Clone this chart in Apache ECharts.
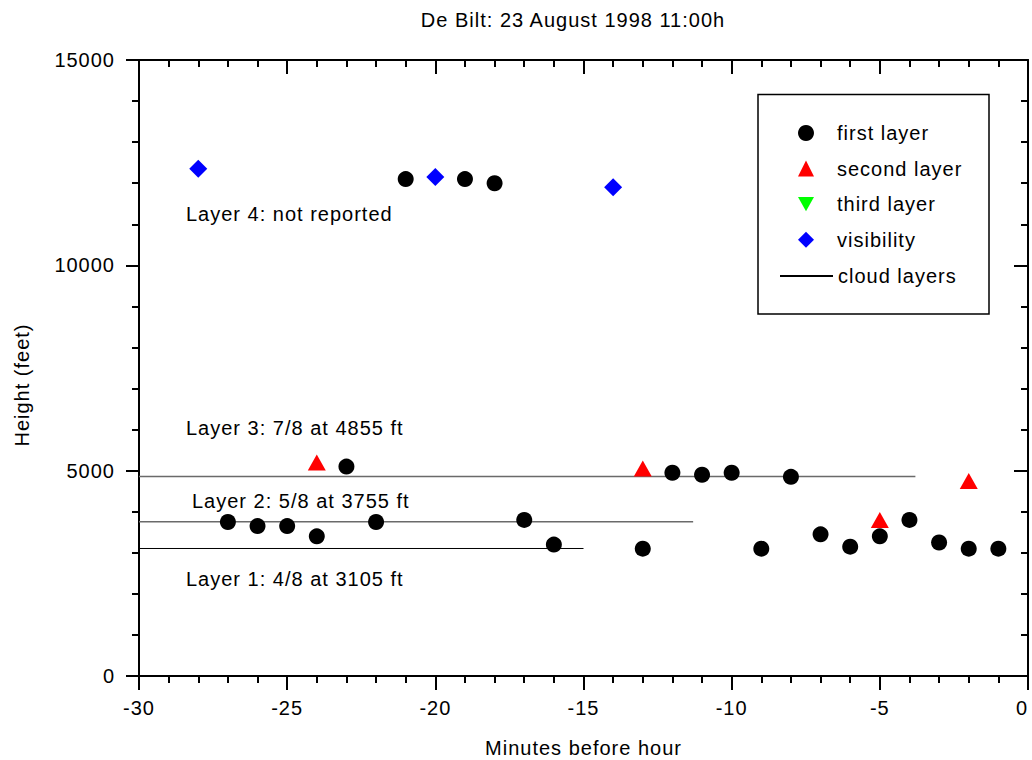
<!DOCTYPE html>
<html>
<head>
<meta charset="utf-8">
<script src="https://cdn.jsdelivr.net/npm/echarts@6/dist/echarts.min.js"></script>
<style>html,body{margin:0;padding:0;background:#fff}#c{width:1032px;height:760px}
#c svg text{letter-spacing:1px}</style>
</head>
<body>
<div id="c"></div>
<script>
// ---- data (minutes before hour, height in feet) ----
var firstLayer = [
  [-27,3750],[-26,3650],[-25,3650],[-24,3400],[-23,5100],[-22,3750],
  [-21,12100],[-19,12100],[-18,12000],[-17,3800],[-16,3200],[-13,3100],
  [-12,4950],[-11,4900],[-10,4950],[-9,3100],[-8,4850],[-7,3450],
  [-6,3150],[-5,3400],[-4,3800],[-3,3250],[-2,3100],[-1,3100]
];
var secondLayer = [[-24,5200],[-13,5050],[-5,3800],[-2,4750]];
var thirdLayer = [];
var visibility = [[-28,12350],[-20,12150],[-14,11900]];
var cloudLayer1 = [[-30,3105],[-15,3105]];
var cloudLayer2 = [[-30,3755],[-11.3,3755]];
var cloudLayer3 = [[-30,4855],[-3.8,4855]];
var annotations = [
  'Layer 4: not reported',
  'Layer 3: 7/8 at 4855 ft',
  'Layer 2: 5/8 at 3755 ft',
  'Layer 1: 4/8 at 3105 ft'
];
var markerNames = ['first layer','second layer','third layer','visibility'];
var lineName = 'cloud layers';

var FONT = 'Arial, "Liberation Sans", sans-serif';
var FS = 20;
var chart = echarts.init(document.getElementById('c'), null, {renderer:'svg'});

function axisCommon(extra){
  return Object.assign({
    axisLine:{show:true, onZero:false, lineStyle:{color:'#000', width:2}},
    splitLine:{show:false},
    minorSplitLine:{show:false}
  }, extra);
}

var option = {
  animation:false,
  backgroundColor:'#fff',
  title:{
    text:'De Bilt: 23 August 1998 11:00h',
    left:568, top:5, textAlign:'center',
    textStyle:{fontFamily:FONT, fontSize:FS, fontWeight:'normal', color:'#000'}
  },
  grid:{left:139, right:4, top:60, bottom:84, containLabel:false, outerBoundsMode:'none'},
  legend:[{
    orient:'vertical', left:798, top:123, padding:0,
    itemWidth:16, itemHeight:16, itemGap:15.6,
    data:markerNames,
    selectedMode:false,
    textStyle:{fontFamily:FONT, fontSize:FS, color:'#000', padding:[0,0,0,18]}
  },{
    orient:'vertical', left:779, top:266, padding:0,
    itemWidth:53, itemHeight:2,
    data:[{name:lineName, itemStyle:{opacity:0}}],
    selectedMode:false,
    textStyle:{fontFamily:FONT, fontSize:FS, color:'#000'}
  }],
  xAxis:[
    axisCommon({
      type:'value', position:'bottom', min:-30, max:0, interval:5,
      axisTick:{show:true, inside:false, length:14, lineStyle:{color:'#000', width:2}},
      minorTick:{show:true, splitNumber:5, length:7, lineStyle:{color:'#000', width:2}},
      axisLabel:{show:true, margin:22, fontFamily:FONT, fontSize:FS, color:'#000', alignMaxLabel:'right'},
      name:'Minutes before hour', nameLocation:'middle', nameGap:62,
      nameTextStyle:{fontFamily:FONT, fontSize:FS, color:'#000'}
    }),
    axisCommon({
      type:'value', position:'top', min:-30, max:0, interval:5,
      axisTick:{show:true, inside:true, length:14, lineStyle:{color:'#000', width:2}},
      minorTick:{show:true, splitNumber:5, length:7, lineStyle:{color:'#000', width:2}},
      axisLabel:{show:false}
    })
  ],
  yAxis:[
    axisCommon({
      type:'value', position:'left', min:0, max:15000, interval:5000,
      axisTick:{show:true, inside:false, length:13, lineStyle:{color:'#000', width:2}},
      minorTick:{show:true, splitNumber:5, length:7, lineStyle:{color:'#000', width:2}},
      axisLabel:{show:true, margin:24, fontFamily:FONT, fontSize:FS, color:'#000',
        formatter:function(v){return String(v);}}
    }),
    axisCommon({
      type:'value', position:'right', min:0, max:15000, interval:5000,
      axisTick:{show:true, inside:true, length:14, lineStyle:{color:'#000', width:2}},
      minorTick:{show:true, splitNumber:5, length:7, lineStyle:{color:'#000', width:2}},
      axisLabel:{show:false}
    })
  ],
  series:[
    {name:lineName, type:'line', data:cloudLayer1, showSymbol:false, symbol:'none',
     lineStyle:{color:'#000', width:1}, itemStyle:{color:'#000'}, z:1},
    {name:'cloud layer 2', type:'line', data:cloudLayer2, showSymbol:false, symbol:'none',
     lineStyle:{color:'#6a6a6a', width:1.5}, z:1},
    {name:'cloud layer 3', type:'line', data:cloudLayer3, showSymbol:false, symbol:'none',
     lineStyle:{color:'#6a6a6a', width:1.5}, z:1},
    {name:'first layer', type:'scatter', data:firstLayer, symbol:'circle', symbolSize:16,
     itemStyle:{color:'#000', opacity:1}, z:3},
    {name:'second layer', type:'scatter', data:secondLayer, symbol:'triangle', symbolSize:[18,16],
     itemStyle:{color:'#ff0000', opacity:1}, z:3},
    {name:'third layer', type:'scatter', data:thirdLayer, symbol:'path://M0,0 L18,0 L9,16 Z', symbolSize:[18,16],
     itemStyle:{color:'#00ff00', opacity:1}, z:3},
    {name:'visibility', type:'scatter', data:visibility, symbol:'diamond', symbolSize:18,
     itemStyle:{color:'#0000ff', opacity:1}, z:3}
  ],
  graphic:[
    {type:'rect', shape:{x:758, y:94.5, width:231, height:219.5},
     style:{fill:null, stroke:'#000', lineWidth:1.5}, z:10},
    {type:'text', x:22, y:385, rotation:Math.PI/2,
     style:{text:'Height (feet)', font:FS+'px '+FONT, fill:'#000', textAlign:'center', textVerticalAlign:'middle'}},
    {type:'text', x:186, y:214, style:{text:annotations[0], font:FS+'px '+FONT, fill:'#000', textVerticalAlign:'middle'}},
    {type:'text', x:186, y:428, style:{text:annotations[1], font:FS+'px '+FONT, fill:'#000', textVerticalAlign:'middle'}},
    {type:'text', x:192, y:501, style:{text:annotations[2], font:FS+'px '+FONT, fill:'#000', textVerticalAlign:'middle'}},
    {type:'text', x:186, y:579, style:{text:annotations[3], font:FS+'px '+FONT, fill:'#000', textVerticalAlign:'middle'}}
  ]
};
chart.setOption(option);
</script>
</body>
</html>
